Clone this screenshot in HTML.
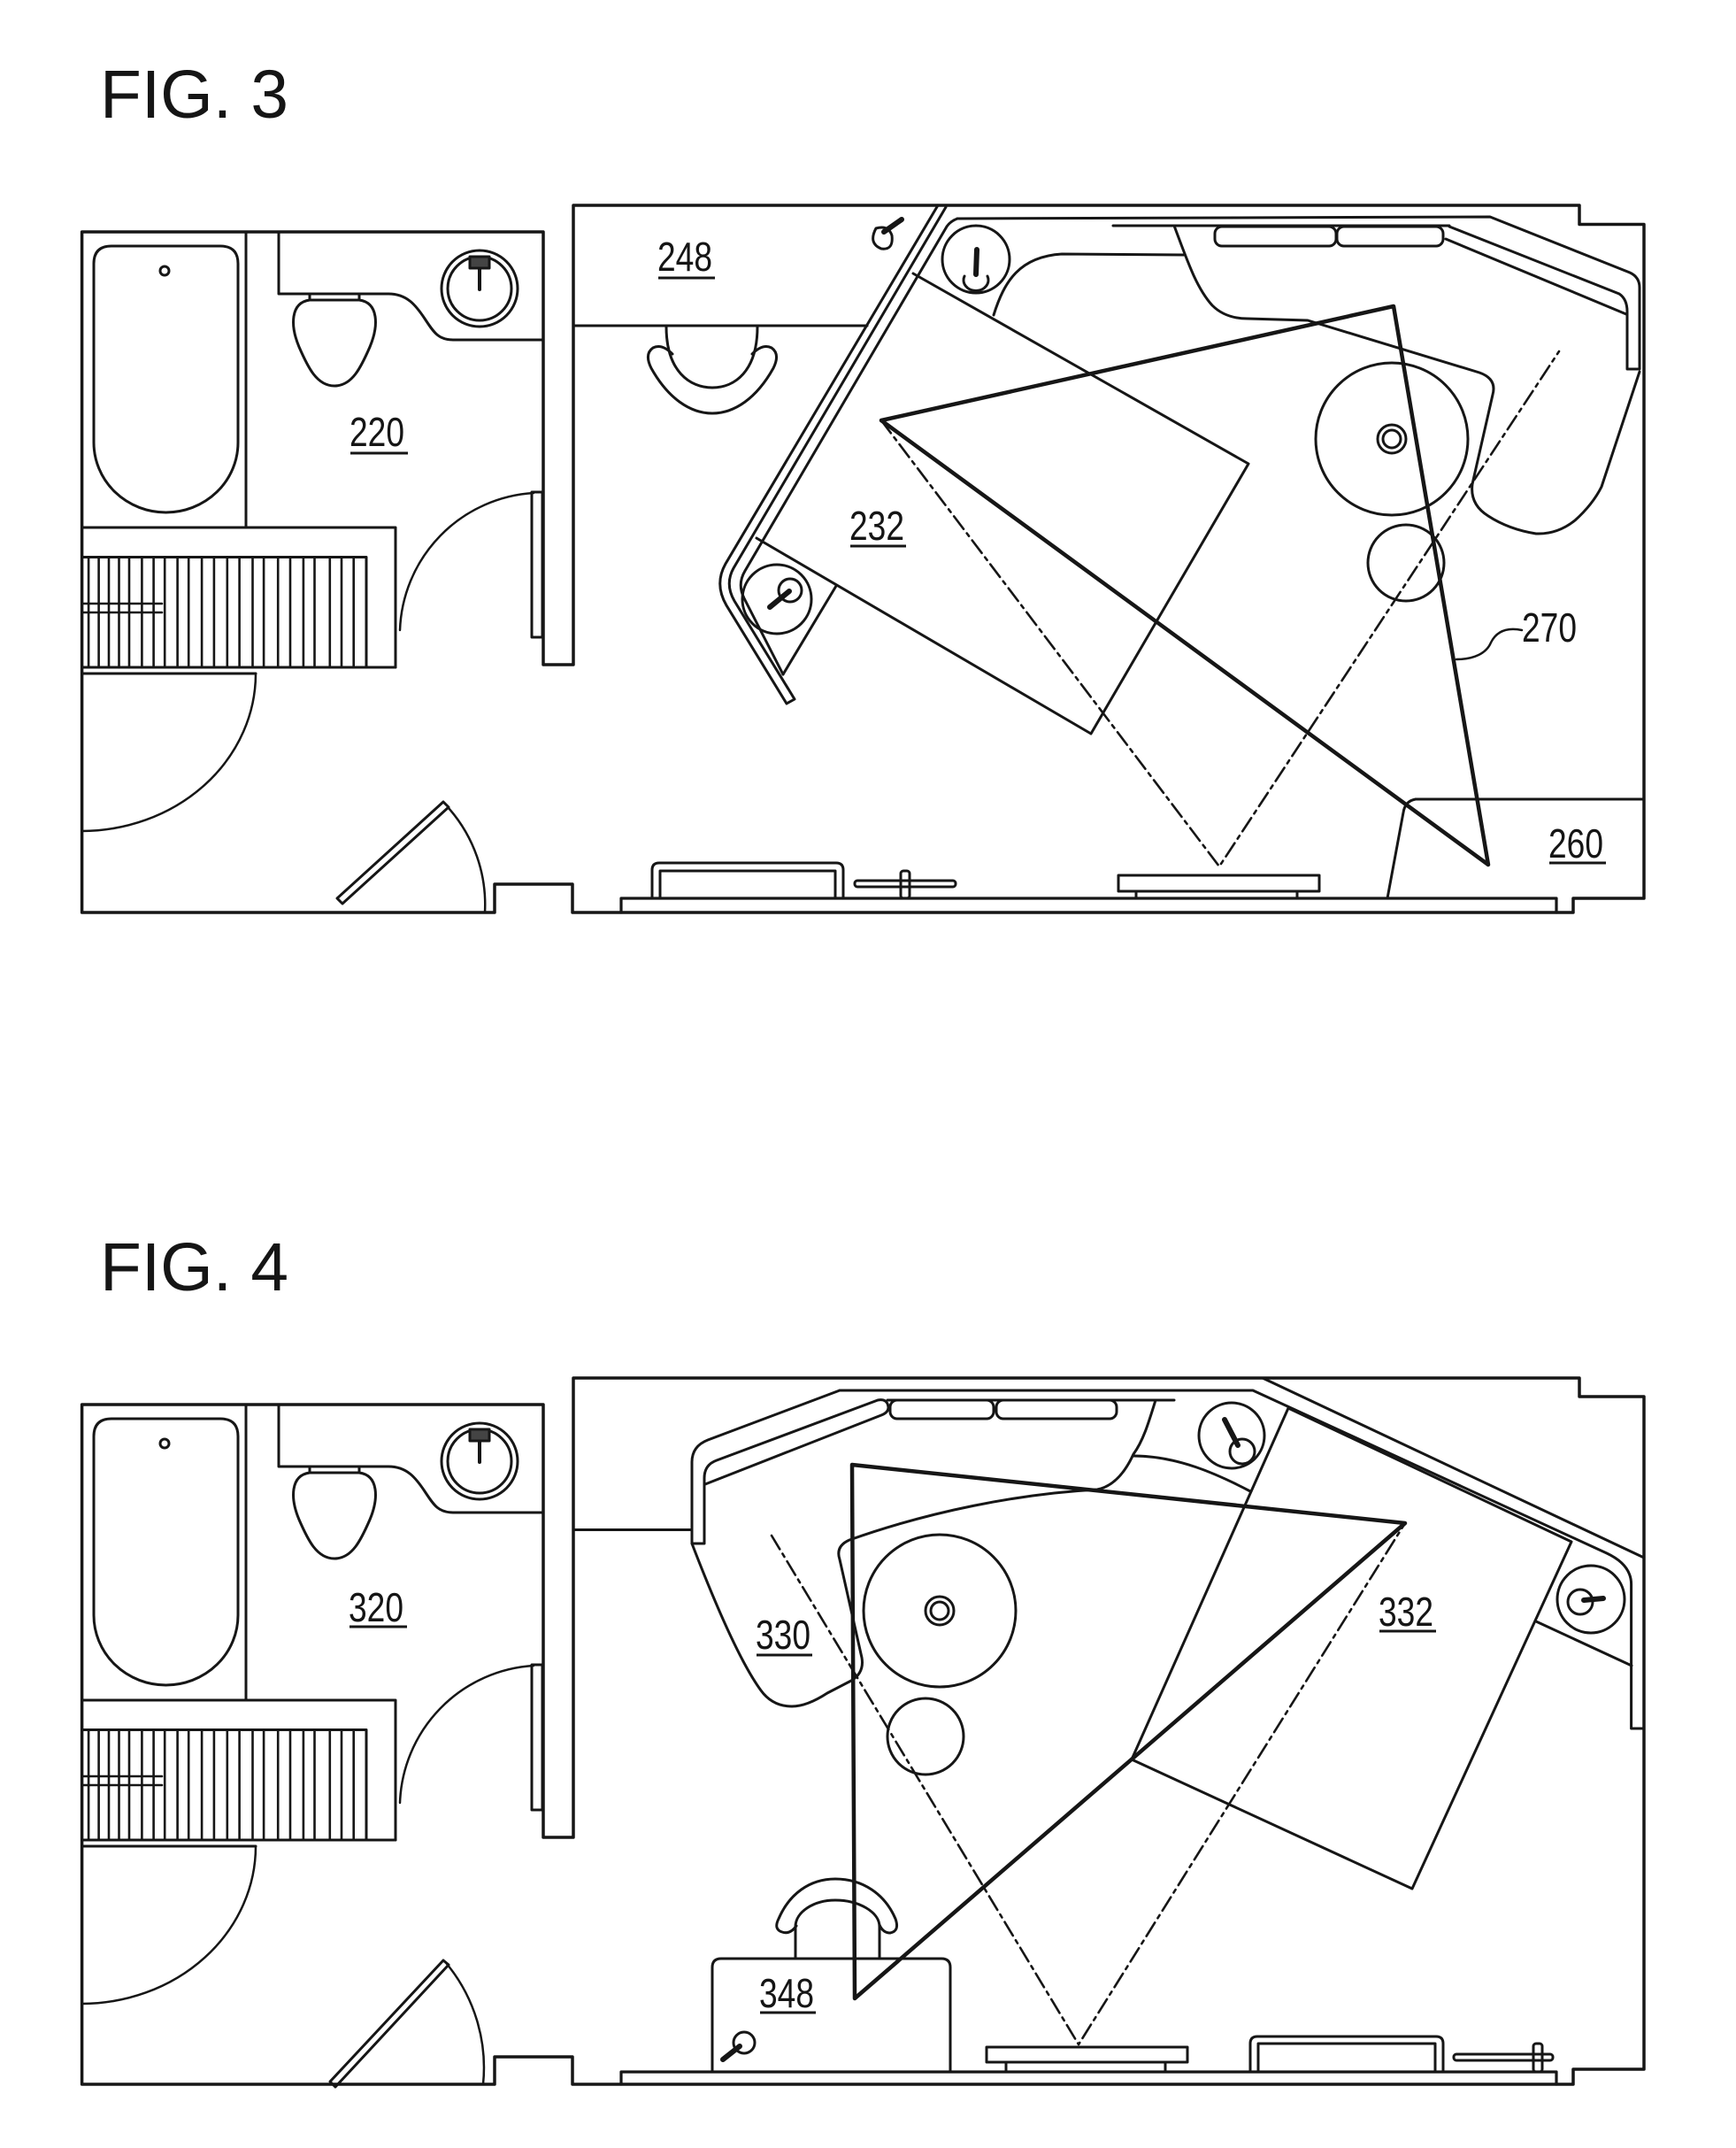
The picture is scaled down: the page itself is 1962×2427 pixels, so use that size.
<!DOCTYPE html>
<html>
<head>
<meta charset="utf-8">
<style>
  html,body{margin:0;padding:0;background:#fff;}
  svg{display:block;}
  .t{font-family:"Liberation Sans",Arial,sans-serif;fill:#151515;}
</style>
</head>
<body>
<svg xmlns="http://www.w3.org/2000/svg" width="1962" height="2427" viewBox="0 0 1962 2427">
<rect x="0" y="0" width="1962" height="2427" fill="#fff"/>

<!-- ================= TITLES ================= -->
<text class="t" x="113" y="133" font-size="77" textLength="213" lengthAdjust="spacingAndGlyphs">FIG. 3</text>
<text class="t" x="113" y="1458" font-size="77" textLength="213" lengthAdjust="spacingAndGlyphs">FIG. 4</text>

<!-- ================= LEFT BATH / CLOSET (FIG 3), reused shifted for FIG 4 ================= -->
<g id="bath3" fill="none" stroke="#161616" stroke-width="3" stroke-linejoin="round" stroke-linecap="round">
  <!-- enclosures -->
  <path d="M278,262 L278,596"/>
  <path d="M92.6,596 L447,596 L447,754"/>
  <path d="M92.6,629.5 L414,629.5 L414,754"/>
  <path d="M92.6,754 L447,754"/>
  <path d="M92.6,761 L289,761"/>
  <!-- bathtub -->
  <path d="M106,298 Q106,278 126,278 L249,278 Q269,278 269,298 L269,500 A81.5 79 0 0 1 106,500 Z"/>
  <circle cx="186" cy="306" r="5"/>
  <!-- toilet counter -->
  <path d="M315,262 L315,332 L439,332 C460,332 470,345 480,360 C490,375 495,384 512,384 L614,384"/>
  <!-- toilet bowl -->
  <path d="M350,339 L406,339 C428,342 428,368 418,392 C408,415 398,436 378,436 C358,436 348,415 338,392 C328,368 328,342 350,339 Z"/>
  <path d="M350,332 L350,339 M406,332 L406,339"/>
  <!-- sink -->
  <circle cx="542" cy="326" r="43"/>
  <circle cx="542" cy="326" r="36"/>
  <path d="M542,300 L542,327" stroke-width="4"/>
  <rect x="531" y="290" width="22" height="13" fill="#444"/>
  <!-- closet hanging lines -->
  <path d="M100.1,629.5V754 M111.6,629.5V754 M123,629.5V754 M134.5,629.5V754 M146,629.5V754 M160.4,629.5V754 M173.6,629.5V754 M186.2,629.5V754 M200.6,629.5V754 M213.2,629.5V754 M228.1,629.5V754 M241.9,629.5V754 M256.8,629.5V754 M270.6,629.5V754 M285.5,629.5V754 M298.1,629.5V754 M314.2,629.5V754 M328,629.5V754 M342.9,629.5V754 M355.5,629.5V754 M372.8,629.5V754 M386,629.5V754 M399.7,629.5V754" stroke-width="2.6"/>
  <path d="M92.6,682 L183,682 M92.6,692 L183,692" stroke-width="2.6"/>
  <!-- bathroom door -->
  <rect x="601" y="556" width="12" height="164"/>
  <path d="M603,557 A161 161 0 0 0 452,712" stroke-width="2.5"/>
  <!-- closet door -->
  <path d="M289,761 A197 178 0 0 1 92.6,939" stroke-width="2.5"/>
</g>
<use href="#bath3" transform="translate(0,1325)"/>

<!-- ================= FIG 3 ROOM ================= -->
<g fill="none" stroke="#161616" stroke-width="3" stroke-linejoin="round" stroke-linecap="round">
  <!-- outer walls -->
  <path d="M92.6,262 L614,262 L614,751 L648,751 L648,232 L1785,232 L1785,253.5 L1858,253.5 L1858,1015 L1778,1015 L1778,1031 L647,1031 L647,999 L559,999 L559,1031 L92.6,1031 Z" stroke-width="3.5"/>
  <path d="M702,1031 L702,1015 L1759,1015 L1759,1031" stroke-width="3.2"/>
  <!-- entry door -->
  <path d="M381,1015 L501,906 L507,912 L387,1021 Z"/>
  <path d="M507,913 A165 165 0 0 1 548,1031" stroke-width="2.5"/>
  <!-- divider 248 -->
  <path d="M648,368 L980,368"/>
  <!-- chair -->
  <path d="M753,369 C753,420 780,438 805,438 C830,438 856,420 856,369"/>
  <path d="M760,400 Q748,388 738,393 Q728,400 736,416 C755,450 780,467 805,467 C830,467 855,450 874,416 Q882,400 872,393 Q862,388 850,400"/>
  <!-- partition wall -->
  <path d="M1060,232 L820,637 Q807,660 821,684 L889,795 L898,790 L830,679 Q819,660 829,642 L1069,234"/>
  <path d="M1082,247 Q1074,250 1070,256 L842,645 Q833,660 841,676 L885,762"/>
  <path d="M945,662 L885,762"/>
  <!-- tap top-left -->
  <path d="M990,258 Q981,275 996,281 Q1010,283 1008,266 Q1004,254 990,258 Z"/>
  <path d="M999,262 L1019,248" stroke-width="6"/>
  <!-- upper sink -->
  <circle cx="1103" cy="293" r="38"/>
  <path d="M1090,312 A14 12 0 1 0 1116,312"/>
  <path d="M1104,282 L1103,310" stroke-width="6"/>
  <!-- lower sink -->
  <circle cx="878" cy="677" r="39"/>
  <circle cx="893" cy="667" r="13"/>
  <path d="M870,686 L892,668" stroke-width="6"/>
  <!-- top counter / window -->
  <path d="M1082,247 L1684,245 L1842,308 Q1853,313 1853,325 L1853,417 L1839,417 L1839,352 Q1839,338 1830,332 L1638,256"/>
  <path d="M1634,270 L1838,355"/>
  <path d="M1258,255 L1638,255"/>
  <rect x="1373" y="256" width="137" height="22" rx="8"/>
  <rect x="1511" y="256" width="120" height="22" rx="8"/>
  <!-- lounge -->
  <path d="M1123,356 C1135,318 1152,290 1200,287 L1338,288"/>
  <!-- bed -->
  <path d="M1327,255 C1342,295 1352,325 1370,345 Q1385,360 1410,360 L1478,362 L1672,421 Q1692,428 1687,446 L1664,547 Q1661,570 1682,583 Q1705,598 1736,603 Q1760,604 1780,588 Q1800,570 1810,550 L1853,420"/>
  <!-- table circles -->
  <circle cx="1573" cy="496" r="86"/>
  <circle cx="1573" cy="496" r="16"/>
  <circle cx="1573" cy="496" r="10"/>
  <circle cx="1589" cy="636" r="43"/>
  <!-- rectangle 232 -->
  <path d="M1032,309 L1411,524 L1233,829 L855,608"/>
  <!-- V lines -->
  <path d="M996,475 L1378,979 L1762,397" stroke-width="2.6" stroke-dasharray="18 6 4 6"/>
  <!-- triangle 270 -->
  <path d="M996,475 L1575,346 L1682,977 Z" stroke-width="4.5"/>
  <!-- 260 closet -->
  <path d="M1600,903 L1858,903"/>
  <path d="M1600,903 Q1588,905 1586,918 L1568,1015"/>
  <!-- 270 leader -->
  <path d="M1720,712 C1700,708 1690,716 1685,726 C1680,738 1666,745 1646,745" stroke-width="2.5"/>
  <!-- bottom items -->
  <rect x="1264" y="989" width="227" height="18"/>
  <path d="M1284,1007 L1284,1015 M1466,1007 L1466,1015"/>
  <path d="M737,1015 L737,983 Q737,975 745,975 L945,975 Q953,975 953,983 L953,1015"/>
  <path d="M746,1015 L746,984 L944,984 L944,1015"/>
  <rect x="966" y="995" width="114" height="7" rx="3"/>
  <rect x="1018" y="984" width="10" height="31" rx="3"/>
</g>

<!-- FIG 3 labels -->
<g class="t" font-size="46">
  <text x="395" y="504" textLength="62" lengthAdjust="spacingAndGlyphs">220</text>
  <text x="743" y="306" textLength="62" lengthAdjust="spacingAndGlyphs">248</text>
  <text x="960" y="610" textLength="62" lengthAdjust="spacingAndGlyphs">232</text>
  <text x="1720" y="725" textLength="62" lengthAdjust="spacingAndGlyphs">270</text>
  <text x="1750" y="969" textLength="62" lengthAdjust="spacingAndGlyphs">260</text>
</g>
<g stroke="#161616" stroke-width="3">
  <path d="M396,512 L461,512 M744,314 L808,314 M961,617 L1024,617 M1751,975 L1815,975"/>
</g>

<!-- ================= FIG 4 ROOM ================= -->
<g fill="none" stroke="#161616" stroke-width="3" stroke-linejoin="round" stroke-linecap="round">
  <!-- outer walls -->
  <path d="M92.6,1587 L614,1587 L614,2076 L648,2076 L648,1557 L1785,1557 L1785,1578 L1858,1578 L1858,2338 L1778,2338 L1778,2355 L647,2355 L647,2324 L559,2324 L559,2355 L92.6,2355 Z" stroke-width="3.5"/>
  <path d="M702,2355 L702,2341 L1759,2341 L1759,2355" stroke-width="3.2"/>
  <!-- entry door -->
  <path d="M373,2352 L501,2215 L507,2220 L379,2358 Z"/>
  <path d="M505,2219 A185 185 0 0 1 546,2355" stroke-width="2.5"/>
  <!-- divider -->
  <path d="M648,1728.5 L782,1728.5"/>
  <!-- left counter strip -->
  <path d="M949,1571 L800,1627 Q782,1634 782,1652 L782,1744 L796,1744 L796,1670 Q796,1655 810,1650 L992,1582 Q1003,1580 1004,1590 Q1004,1596 996,1599 L797,1677"/>
  <!-- top line + right diagonal counter -->
  <path d="M949,1571 L1416,1571 L1816,1755 Q1843.6,1768 1843.6,1790 L1843.6,1953 L1858,1953"/>
  <path d="M1427,1557 L1858,1760"/>
  <!-- window -->
  <path d="M1003,1582 L1327,1582"/>
  <rect x="1006" y="1582" width="117" height="21" rx="8"/>
  <rect x="1126" y="1582" width="136" height="21" rx="8"/>
  <!-- upper sink -->
  <circle cx="1392" cy="1622" r="37"/>
  <circle cx="1404" cy="1640" r="14"/>
  <path d="M1384,1604 L1399,1633" stroke-width="6"/>
  <path d="M1281,1645 C1330,1645 1375,1665 1413,1685"/>
  <!-- bed / lounge -->
  <path d="M1306,1582 C1298,1608 1292,1628 1281,1643 Q1265,1678 1240,1683 C1150,1688 1050,1708 960,1740 Q944,1747 949,1762 L974,1873 Q977,1890 962,1899 L935,1913 Q912,1928 895,1928 Q873,1928 860,1910 C838,1880 812,1822 782,1744"/>
  <!-- circles -->
  <circle cx="1062" cy="1820" r="86"/>
  <circle cx="1062" cy="1820" r="16"/>
  <circle cx="1062" cy="1820" r="10"/>
  <circle cx="1046" cy="1962" r="43"/>
  <!-- rectangle 332 -->
  <path d="M1456,1591 L1776,1742 L1596,2134 L1279,1988 Z"/>
  <!-- V lines -->
  <path d="M872,1735 L1219,2310 L1588,1721" stroke-width="2.6" stroke-dasharray="18 6 4 6"/>
  <!-- triangle -->
  <path d="M963,1655 L1588,1721 L966,2258 Z" stroke-width="4.5"/>
  <!-- right sink -->
  <circle cx="1798" cy="1807" r="38"/>
  <circle cx="1786" cy="1810" r="14"/>
  <path d="M1790,1808 L1812,1806" stroke-width="6"/>
  <path d="M1736,1832 L1844,1882"/>
  <!-- chair -->
  <path d="M899,2213 L899,2177 C899,2160 920,2147 944,2147 C970,2147 994,2160 994,2177 L994,2213"/>
  <path d="M900,2176 Q893,2186 884,2183 Q874,2180 880,2168 C892,2140 915,2123 944,2123 C975,2123 1000,2140 1012,2168 Q1017,2182 1006,2184 Q998,2184 994,2175"/>
  <!-- 348 box -->
  <path d="M805,2341 L805,2223 Q805,2213 815,2213 L1064,2213 Q1074,2213 1074,2223 L1074,2341"/>
  <circle cx="841" cy="2308" r="12"/>
  <path d="M817,2327 L836,2312" stroke-width="6"/>
  <!-- bottom items -->
  <rect x="1115" y="2313" width="227" height="17"/>
  <path d="M1137,2330 L1137,2341 M1317,2330 L1317,2341"/>
  <path d="M1413,2341 L1413,2309 Q1413,2301 1421,2301 L1623,2301 Q1631,2301 1631,2309 L1631,2341"/>
  <path d="M1422,2341 L1422,2309 L1622,2309 L1622,2341"/>
  <rect x="1643" y="2321" width="112" height="7" rx="3"/>
  <rect x="1733" y="2309" width="10" height="32" rx="3"/>
</g>

<!-- FIG 4 labels -->
<g class="t" font-size="46">
  <text x="394" y="1832" textLength="62" lengthAdjust="spacingAndGlyphs">320</text>
  <text x="854" y="1863" textLength="62" lengthAdjust="spacingAndGlyphs">330</text>
  <text x="1558" y="1837" textLength="62" lengthAdjust="spacingAndGlyphs">332</text>
  <text x="858" y="2268" textLength="62" lengthAdjust="spacingAndGlyphs">348</text>
</g>
<g stroke="#161616" stroke-width="3">
  <path d="M395,1838 L460,1838 M855,1870 L918,1870 M1559,1843 L1623,1843 M859,2274 L922,2274"/>
</g>
</svg>
</body>
</html>
